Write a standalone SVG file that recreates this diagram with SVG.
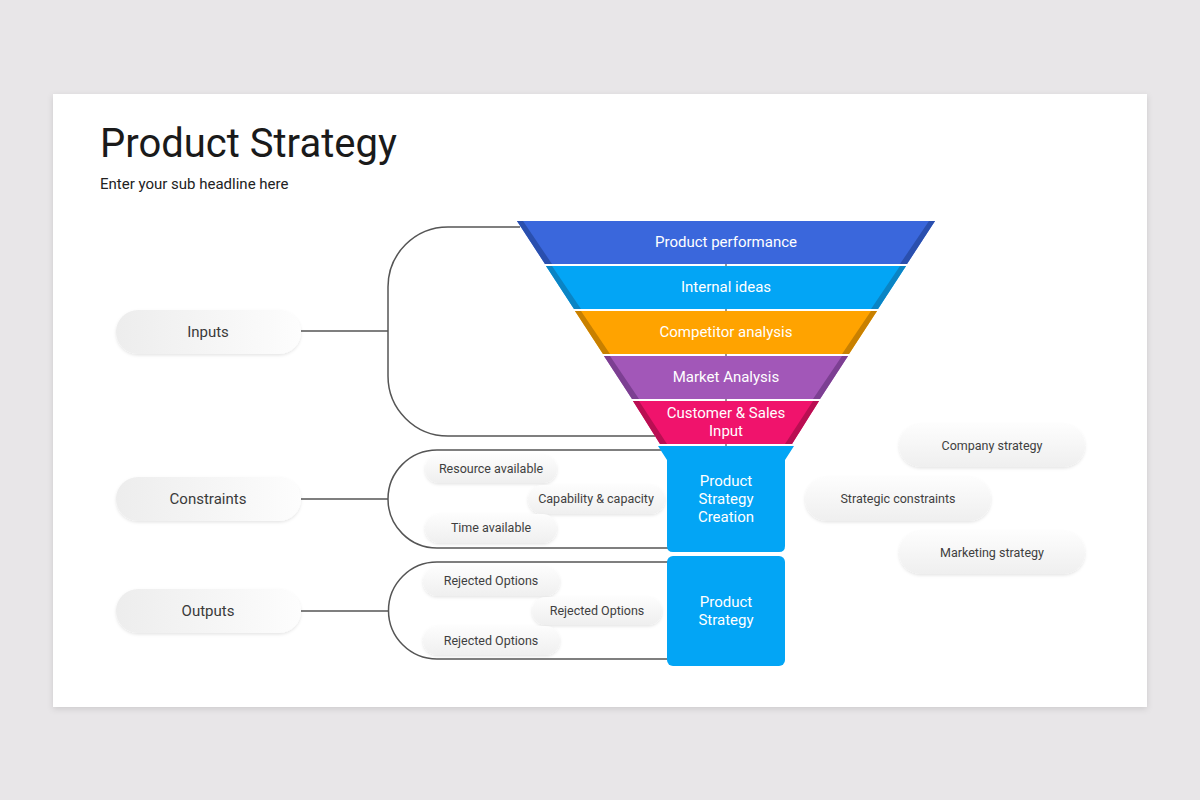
<svg xmlns="http://www.w3.org/2000/svg" width="1200" height="800" viewBox="0 0 1200 800">
<defs>
<filter id="cardShadow" x="-5%" y="-5%" width="110%" height="115%"><feDropShadow dx="0" dy="2" stdDeviation="3" flood-color="#000" flood-opacity="0.12"/></filter>
<filter id="pillShadow" x="-10%" y="-20%" width="120%" height="150%"><feDropShadow dx="0" dy="1.5" stdDeviation="1.5" flood-color="#000" flood-opacity="0.10"/></filter>
<linearGradient id="gLeft" x1="0" y1="0" x2="1" y2="0"><stop offset="0" stop-color="#ededed"/><stop offset="1" stop-color="#fdfdfd"/></linearGradient>
<linearGradient id="gPill" x1="0" y1="0" x2="0" y2="1"><stop offset="0" stop-color="#fdfdfd"/><stop offset="1" stop-color="#efefef"/></linearGradient>
<style>
.t{font-family:Roboto,"Liberation Sans",sans-serif;}
.w{fill:#fff;font-size:15px;text-anchor:middle;}
.lbl{fill:#3a3a3a;font-size:15px;text-anchor:middle;}
.sm{fill:#3f3f3f;font-size:12.5px;text-anchor:middle;}
.con{fill:none;stroke:#555;stroke-width:1.5;}
.lp{fill:url(#gLeft);filter:url(#pillShadow);}
.pp{fill:url(#gPill);filter:url(#pillShadow);}
</style>
</defs>
<rect width="1200" height="800" fill="#e8e6e8"/>
<rect x="53" y="94" width="1094" height="613" fill="#fff" filter="url(#cardShadow)"/>
<text class="t" x="100" y="157" font-size="40" fill="#1a1a1a">Product Strategy</text>
<text class="t" x="100" y="189" font-size="15" fill="#222">Enter your sub headline here</text>

<g id="connectors">
<line class="con" x1="301" y1="331" x2="388" y2="331"/>
<path class="con" d="M520 227 H448 A60 60 0 0 0 388 287 V376 A60 60 0 0 0 448 436 H655"/>
<line class="con" x1="301" y1="499" x2="388" y2="499"/>
<path class="con" d="M668 450 H437 A49 49 0 0 0 437 548 H668"/>
<line class="con" x1="301" y1="611" x2="388" y2="611"/>
<path class="con" d="M668 562 H437 A48.5 48.5 0 0 0 437 659 H668"/>
<line x1="726" y1="222" x2="726" y2="446" stroke="#555" stroke-width="1.2"/>
</g>

<g id="band1">
<polygon points="517,221 935,221 907,264 545,264" fill="#3a67dc"/>
<polygon points="517,221 523,221 552,264 545,264" fill="#2a4fae"/>
<polygon points="935,221 929,221 900,264 907,264" fill="#2a4fae"/>
<text class="t w" x="726" y="247">Product performance</text>
</g>
<g id="band2">
<polygon points="546,266 906,266 878,309 574,309" fill="#03a5f5"/>
<polygon points="546,266 552,266 581,309 574,309" fill="#0a84c4"/>
<polygon points="906,266 900,266 871,309 878,309" fill="#0a84c4"/>
<text class="t w" x="726" y="292">Internal ideas</text>
</g>
<g id="band3">
<polygon points="575,311 877,311 849,354 603,354" fill="#ffa300"/>
<polygon points="575,311 581,311 610,354 603,354" fill="#c88000"/>
<polygon points="877,311 871,311 842,354 849,354" fill="#c88000"/>
<text class="t w" x="726" y="337">Competitor analysis</text>
</g>
<g id="band4">
<polygon points="604,356 848,356 820,399 632,399" fill="#a257b8"/>
<polygon points="604,356 610,356 639,399 632,399" fill="#7c3f92"/>
<polygon points="848,356 842,356 813,399 820,399" fill="#7c3f92"/>
<text class="t w" x="726" y="382">Market Analysis</text>
</g>
<g id="band5">
<polygon points="633,401 819,401 792,444 660,444" fill="#f0136c"/>
<polygon points="633,401 639,401 667,444 660,444" fill="#b90e52"/>
<polygon points="819,401 813,401 785,444 792,444" fill="#b90e52"/>
<text class="t w" x="726" y="418">Customer &amp; Sales</text>
<text class="t w" x="726" y="436">Input</text>
</g>

<g id="creation">
<path d="M658 446 H794 L785 460 V546 Q785 552 779 552 H673 Q667 552 667 546 V460 Z" fill="#03a5f5"/>
<text class="t w" x="726" y="486">Product</text>
<text class="t w" x="726" y="504">Strategy</text>
<text class="t w" x="726" y="522">Creation</text>
</g>
<g id="strategy">
<rect x="667" y="556" width="118" height="110" rx="6" fill="#03a5f5"/>
<text class="t w" x="726" y="607">Product</text>
<text class="t w" x="726" y="625">Strategy</text>
</g>

<g id="inputs"><rect class="lp" x="116" y="310" width="185" height="44" rx="22"/><text class="t lbl" x="208" y="337">Inputs</text></g>
<g id="constraints"><rect class="lp" x="116" y="477" width="185" height="44" rx="22"/><text class="t lbl" x="208" y="504">Constraints</text></g>
<g id="outputs"><rect class="lp" x="116" y="589" width="185" height="44" rx="22"/><text class="t lbl" x="208" y="616">Outputs</text></g>

<g id="resource"><rect class="pp" x="425" y="455" width="132" height="28" rx="14"/><text class="t sm" x="491" y="473">Resource available</text></g>
<g id="capability"><rect class="pp" x="528" y="485" width="137" height="29" rx="14.5"/><text class="t sm" x="596" y="503">Capability &amp; capacity</text></g>
<g id="time"><rect class="pp" x="425" y="514" width="132" height="29" rx="14.5"/><text class="t sm" x="491" y="532">Time available</text></g>

<g id="rejected1"><rect class="pp" x="423" y="567" width="137" height="29" rx="14.5"/><text class="t sm" x="491" y="585">Rejected  Options</text></g>
<g id="rejected2"><rect class="pp" x="532" y="597" width="130" height="28" rx="14"/><text class="t sm" x="597" y="615">Rejected  Options</text></g>
<g id="rejected3"><rect class="pp" x="423" y="626" width="137" height="29" rx="14.5"/><text class="t sm" x="491" y="645">Rejected  Options</text></g>

<g id="company"><rect class="pp" x="899" y="424" width="186" height="43" rx="21.5"/><text class="t sm" x="992" y="450">Company strategy</text></g>
<g id="strategic"><rect class="pp" x="805" y="477" width="186" height="44" rx="22"/><text class="t sm" x="898" y="503">Strategic constraints</text></g>
<g id="marketing"><rect class="pp" x="899" y="531" width="186" height="43" rx="21.5"/><text class="t sm" x="992" y="557">Marketing strategy</text></g>
</svg>
